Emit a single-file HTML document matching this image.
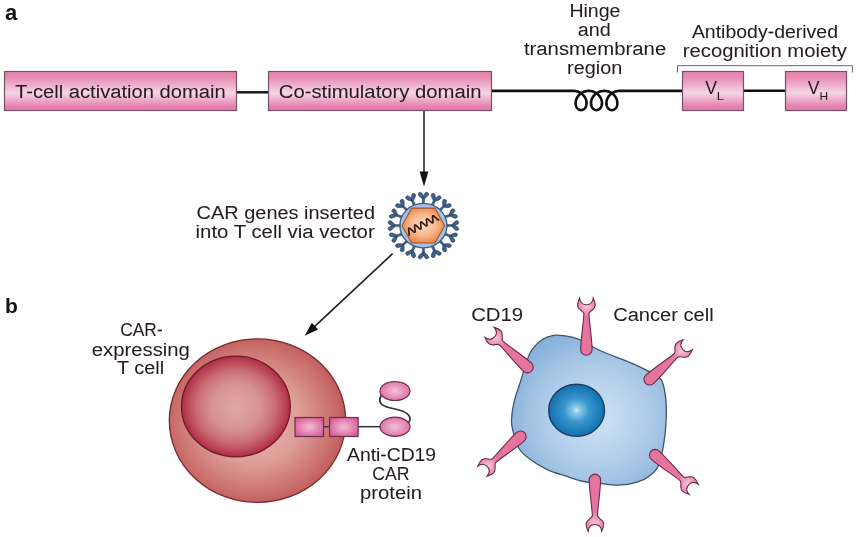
<!DOCTYPE html>
<html><head><meta charset="utf-8"><style>html,body{margin:0;padding:0;background:#fff;width:858px;height:537px;overflow:hidden}</style></head>
<body><svg width="858" height="537" viewBox="0 0 858 537" style="display:block;font-family:'Liberation Sans', sans-serif;will-change:transform">
<defs>
 <linearGradient id="boxg" x1="0" y1="0" x2="0" y2="1">
  <stop offset="0" stop-color="#e783b0"/>
  <stop offset="0.15" stop-color="#e68ab4"/>
  <stop offset="0.55" stop-color="#f5d6e4"/>
  <stop offset="0.9" stop-color="#e680b0"/>
  <stop offset="1" stop-color="#e47bab"/>
 </linearGradient>
 <radialGradient id="smallbox" cx="0.5" cy="0.5" r="0.6">
  <stop offset="0" stop-color="#f2bcd6"/>
  <stop offset="1" stop-color="#d95a97"/>
 </radialGradient>
 <radialGradient id="tcell" cx="0.48" cy="0.5" r="0.58">
  <stop offset="0" stop-color="#e6b2ac"/>
  <stop offset="0.45" stop-color="#de9e98"/>
  <stop offset="0.75" stop-color="#cc736f"/>
  <stop offset="1" stop-color="#b84b4f"/>
 </radialGradient>
 <radialGradient id="tnuc" cx="0.5" cy="0.5" r="0.52">
  <stop offset="0" stop-color="#e0a8a5"/>
  <stop offset="0.45" stop-color="#d69293"/>
  <stop offset="0.7" stop-color="#c96c74"/>
  <stop offset="0.9" stop-color="#b73c50"/>
  <stop offset="1" stop-color="#a8243b"/>
 </radialGradient>
 <radialGradient id="ccell" cx="0.55" cy="0.55" r="0.6">
  <stop offset="0" stop-color="#d0e3f4"/>
  <stop offset="0.55" stop-color="#afcce9"/>
  <stop offset="1" stop-color="#88b1da"/>
 </radialGradient>
 <radialGradient id="cnuc" cx="0.5" cy="0.5" r="0.5">
  <stop offset="0" stop-color="#d6eef9"/>
  <stop offset="0.12" stop-color="#8ccaea"/>
  <stop offset="0.45" stop-color="#3a96cf"/>
  <stop offset="0.85" stop-color="#1c7ab8"/>
  <stop offset="1" stop-color="#1670ad"/>
 </radialGradient>
 <radialGradient id="hexg" cx="0.5" cy="0.48" r="0.55">
  <stop offset="0" stop-color="#fddcc5"/>
  <stop offset="0.55" stop-color="#f7b78d"/>
  <stop offset="1" stop-color="#ed8243"/>
 </radialGradient>
 <radialGradient id="recg" gradientUnits="userSpaceOnUse" cx="0" cy="-49" r="11">
  <stop offset="0" stop-color="#f3c6d8"/>
  <stop offset="1" stop-color="#e5749f"/>
 </radialGradient>
 <radialGradient id="ellg" cx="0.5" cy="0.5" r="0.55">
  <stop offset="0" stop-color="#f0c2d8"/>
  <stop offset="1" stop-color="#df6ea3"/>
 </radialGradient>
</defs>

<text x="5" y="19.6" font-size="22" font-weight="bold" fill="#111">a</text>
<line x1="237" y1="92.3" x2="268" y2="92.3" stroke="#111" stroke-width="2.4"/>

<line x1="744" y1="90.7" x2="785" y2="90.7" stroke="#111" stroke-width="2.4"/>
<rect x="4.5" y="71.5" width="232" height="39" fill="url(#boxg)" stroke="#7a5066" stroke-width="1.2"/>
<rect x="268.5" y="71.5" width="223" height="39" fill="url(#boxg)" stroke="#7a5066" stroke-width="1.2"/>
<rect x="682.5" y="71.5" width="61" height="39" fill="url(#boxg)" stroke="#7a5066" stroke-width="1.2"/>
<rect x="785.5" y="71.5" width="61" height="39" fill="url(#boxg)" stroke="#7a5066" stroke-width="1.2"/>
<text x="15" y="97.8" font-size="18" font-weight="normal" fill="#251c22" stroke="#251c22" stroke-width="0.05" textLength="210.7" lengthAdjust="spacingAndGlyphs">T-cell activation domain</text>
<text x="278.8" y="98" font-size="18" font-weight="normal" fill="#251c22" stroke="#251c22" stroke-width="0.05" textLength="202.7" lengthAdjust="spacingAndGlyphs">Co-stimulatory domain</text>
<text x="705.2" y="93.7" font-size="18" font-weight="normal" fill="#251c22" stroke="#251c22" stroke-width="0.05" textLength="11.8" lengthAdjust="spacingAndGlyphs">V</text>
<text x="716.8" y="99.6" font-size="11" font-weight="normal" fill="#251c22" stroke="#251c22" stroke-width="0.05" textLength="7.2" lengthAdjust="spacingAndGlyphs">L</text>
<text x="807.8" y="93.7" font-size="18" font-weight="normal" fill="#251c22" stroke="#251c22" stroke-width="0.05" textLength="11.8" lengthAdjust="spacingAndGlyphs">V</text>
<text x="819.4" y="99.6" font-size="11" font-weight="normal" fill="#251c22" stroke="#251c22" stroke-width="0.05" textLength="8.6" lengthAdjust="spacingAndGlyphs">H</text>
<path d="M677.5,72.6 V65.7 H852.4 V72.6" fill="none" stroke="#666" stroke-width="1"/>
<path d="M492,90.9 L573.40,90.90 L574.12,90.92 L574.84,90.98 L575.55,91.07 L576.25,91.20 L576.95,91.37 L577.64,91.57 L578.31,91.81 L578.97,92.09 L579.61,92.39 L580.23,92.73 L580.83,93.10 L581.41,93.50 L581.96,93.93 L582.49,94.38 L582.99,94.86 L583.46,95.36 L583.90,95.88 L584.31,96.41 L584.69,96.97 L585.04,97.53 L585.35,98.11 L585.63,98.70 L585.87,99.30 L586.08,99.90 L586.25,100.50 L586.38,101.10 L586.49,101.70 L586.55,102.30 L586.58,102.89 L586.58,103.47 L586.54,104.03 L586.47,104.59 L586.37,105.12 L586.23,105.64 L586.07,106.14 L585.88,106.62 L585.66,107.07 L585.41,107.50 L585.14,107.90 L584.85,108.27 L584.53,108.61 L584.20,108.91 L583.85,109.19 L583.49,109.43 L583.11,109.63 L582.72,109.80 L582.32,109.93 L581.92,110.02 L581.51,110.08 L581.10,110.10 L580.69,110.08 L580.28,110.02 L579.87,109.93 L579.47,109.80 L579.09,109.63 L578.71,109.43 L578.34,109.19 L577.99,108.91 L577.66,108.61 L577.35,108.27 L577.05,107.90 L576.78,107.50 L576.54,107.07 L576.32,106.62 L576.12,106.14 L575.96,105.64 L575.83,105.12 L575.72,104.59 L575.65,104.03 L575.62,103.47 L575.61,102.89 L575.64,102.30 L575.71,101.70 L575.81,101.10 L575.95,100.50 L576.12,99.90 L576.32,99.30 L576.57,98.70 L576.84,98.11 L577.16,97.53 L577.50,96.97 L577.88,96.41 L578.29,95.88 L578.73,95.36 L579.20,94.86 L579.70,94.38 L580.23,93.93 L580.79,93.50 L581.36,93.10 L581.96,92.73 L582.59,92.39 L583.23,92.09 L583.88,91.81 L584.56,91.57 L585.24,91.37 L585.94,91.20 L586.65,91.07 L587.36,90.98 L588.07,90.92 L588.79,90.90 L589.51,90.92 L590.23,90.98 L590.94,91.07 L591.65,91.20 L592.34,91.37 L593.03,91.57 L593.70,91.81 L594.36,92.09 L595.00,92.39 L595.62,92.73 L596.22,93.10 L596.80,93.50 L597.36,93.93 L597.88,94.38 L598.38,94.86 L598.86,95.36 L599.30,95.88 L599.71,96.41 L600.09,96.97 L600.43,97.53 L600.74,98.11 L601.02,98.70 L601.26,99.30 L601.47,99.90 L601.64,100.50 L601.78,101.10 L601.88,101.70 L601.94,102.30 L601.98,102.89 L601.97,103.47 L601.93,104.03 L601.86,104.59 L601.76,105.12 L601.63,105.64 L601.46,106.14 L601.27,106.62 L601.05,107.07 L600.80,107.50 L600.53,107.90 L600.24,108.27 L599.93,108.61 L599.59,108.91 L599.25,109.19 L598.88,109.43 L598.50,109.63 L598.11,109.80 L597.72,109.93 L597.31,110.02 L596.90,110.08 L596.49,110.10 L596.08,110.08 L595.67,110.02 L595.27,109.93 L594.87,109.80 L594.48,109.63 L594.10,109.43 L593.74,109.19 L593.39,108.91 L593.05,108.61 L592.74,108.27 L592.45,107.90 L592.18,107.50 L591.93,107.07 L591.71,106.62 L591.52,106.14 L591.35,105.64 L591.22,105.12 L591.12,104.59 L591.05,104.03 L591.01,103.47 L591.01,102.89 L591.04,102.30 L591.10,101.70 L591.20,101.10 L591.34,100.50 L591.51,99.90 L591.72,99.30 L591.96,98.70 L592.24,98.11 L592.55,97.53 L592.89,96.97 L593.27,96.41 L593.68,95.88 L594.13,95.36 L594.60,94.86 L595.10,94.38 L595.63,93.93 L596.18,93.50 L596.76,93.10 L597.36,92.73 L597.98,92.39 L598.62,92.09 L599.28,91.81 L599.95,91.57 L600.64,91.37 L601.33,91.20 L602.04,91.07 L602.75,90.98 L603.47,90.92 L604.19,90.90 L604.91,90.92 L605.62,90.98 L606.34,91.07 L607.04,91.20 L607.74,91.37 L608.42,91.57 L609.10,91.81 L609.75,92.09 L610.40,92.39 L611.02,92.73 L611.62,93.10 L612.20,93.50 L612.75,93.93 L613.28,94.38 L613.78,94.86 L614.25,95.36 L614.69,95.88 L615.10,96.41 L615.48,96.97 L615.83,97.53 L616.14,98.11 L616.41,98.70 L616.66,99.30 L616.86,99.90 L617.04,100.50 L617.17,101.10 L617.27,101.70 L617.34,102.30 L617.37,102.89 L617.37,103.47 L617.33,104.03 L617.26,104.59 L617.15,105.12 L617.02,105.64 L616.86,106.14 L616.66,106.62 L616.44,107.07 L616.20,107.50 L615.93,107.90 L615.64,108.27 L615.32,108.61 L614.99,108.91 L614.64,109.19 L614.27,109.43 L613.90,109.63 L613.51,109.80 L613.11,109.93 L612.70,110.02 L612.30,110.08 L611.88,110.10 L611.47,110.08 L611.06,110.02 L610.66,109.93 L610.26,109.80 L609.87,109.63 L609.50,109.43 L609.13,109.19 L608.78,108.91 L608.45,108.61 L608.13,108.27 L607.84,107.90 L607.57,107.50 L607.32,107.07 L607.11,106.62 L606.91,106.14 L606.75,105.64 L606.61,105.12 L606.51,104.59 L606.44,104.03 L606.40,103.47 L606.40,102.89 L606.43,102.30 L606.50,101.70 L606.60,101.10 L606.73,100.50 L606.90,99.90 L607.11,99.30 L607.35,98.70 L607.63,98.11 L607.94,97.53 L608.29,96.97 L608.67,96.41 L609.08,95.88 L609.52,95.36 L609.99,94.86 L610.49,94.38 L611.02,93.93 L611.57,93.50 L612.15,93.10 L612.75,92.73 L613.37,92.39 L614.01,92.09 L614.67,91.81 L615.34,91.57 L616.03,91.37 L616.73,91.20 L617.43,91.07 L618.15,90.98 L618.86,90.92 L619.58,90.90 L682,90.9" fill="none" stroke="#111" stroke-width="2.6" stroke-linejoin="round"/>
<text x="569.4" y="17.1" font-size="18" font-weight="normal" fill="#251c22" stroke="#251c22" stroke-width="0.05" textLength="51.1" lengthAdjust="spacingAndGlyphs">Hinge</text>
<text x="577.8" y="35.9" font-size="18" font-weight="normal" fill="#251c22" stroke="#251c22" stroke-width="0.05" textLength="33.0" lengthAdjust="spacingAndGlyphs">and</text>
<text x="523.9" y="55.4" font-size="18" font-weight="normal" fill="#251c22" stroke="#251c22" stroke-width="0.05" textLength="142.3" lengthAdjust="spacingAndGlyphs">transmembrane</text>
<text x="567.1" y="74.2" font-size="18" font-weight="normal" fill="#251c22" stroke="#251c22" stroke-width="0.05" textLength="55.2" lengthAdjust="spacingAndGlyphs">region</text>
<text x="691.9" y="38.0" font-size="18" font-weight="normal" fill="#251c22" stroke="#251c22" stroke-width="0.05" textLength="146.1" lengthAdjust="spacingAndGlyphs">Antibody-derived</text>
<text x="682.8" y="56.6" font-size="18" font-weight="normal" fill="#251c22" stroke="#251c22" stroke-width="0.05" textLength="164.1" lengthAdjust="spacingAndGlyphs">recognition moiety</text>
<line x1="424.0" y1="111" x2="424.0" y2="174" stroke="#333" stroke-width="1.7"/>
<path d="M419.6,171.4 L428.4,171.4 L424.0,186.4 Z" fill="#111"/>
<g transform="translate(423.4,225.6) scale(1.06,1) translate(-423.4,-225.6)"><g transform="translate(423.4,225.6) rotate(0.0)"><path d="M-1.5,-21 L-1.0,-24 L-1.0,-27.6 L1.0,-27.6 L1.0,-24 L1.5,-21 Z" fill="#3d5f88" stroke="#2a4464" stroke-width="0.5"/><path transform="translate(0,-27.2) rotate(-36)" d="M-0.6,0 C-1.5,-1.8 -1.75,-3.6 -1.75,-5.3 A1.75,1.75 0 0 1 1.75,-5.3 C1.75,-3.6 1.5,-1.8 0.6,0 Z" fill="#41648e" stroke="#27405f" stroke-width="0.7"/><path transform="translate(0,-27.2) rotate(36)" d="M-0.6,0 C-1.5,-1.8 -1.75,-3.6 -1.75,-5.3 A1.75,1.75 0 0 1 1.75,-5.3 C1.75,-3.6 1.5,-1.8 0.6,0 Z" fill="#41648e" stroke="#27405f" stroke-width="0.7"/></g><g transform="translate(423.4,225.6) rotate(22.5)"><path d="M-1.5,-21 L-1.0,-24 L-1.0,-27.6 L1.0,-27.6 L1.0,-24 L1.5,-21 Z" fill="#3d5f88" stroke="#2a4464" stroke-width="0.5"/><path transform="translate(0,-27.2) rotate(-36)" d="M-0.6,0 C-1.5,-1.8 -1.75,-3.6 -1.75,-5.3 A1.75,1.75 0 0 1 1.75,-5.3 C1.75,-3.6 1.5,-1.8 0.6,0 Z" fill="#41648e" stroke="#27405f" stroke-width="0.7"/><path transform="translate(0,-27.2) rotate(36)" d="M-0.6,0 C-1.5,-1.8 -1.75,-3.6 -1.75,-5.3 A1.75,1.75 0 0 1 1.75,-5.3 C1.75,-3.6 1.5,-1.8 0.6,0 Z" fill="#41648e" stroke="#27405f" stroke-width="0.7"/></g><g transform="translate(423.4,225.6) rotate(45.0)"><path d="M-1.5,-21 L-1.0,-24 L-1.0,-27.6 L1.0,-27.6 L1.0,-24 L1.5,-21 Z" fill="#3d5f88" stroke="#2a4464" stroke-width="0.5"/><path transform="translate(0,-27.2) rotate(-36)" d="M-0.6,0 C-1.5,-1.8 -1.75,-3.6 -1.75,-5.3 A1.75,1.75 0 0 1 1.75,-5.3 C1.75,-3.6 1.5,-1.8 0.6,0 Z" fill="#41648e" stroke="#27405f" stroke-width="0.7"/><path transform="translate(0,-27.2) rotate(36)" d="M-0.6,0 C-1.5,-1.8 -1.75,-3.6 -1.75,-5.3 A1.75,1.75 0 0 1 1.75,-5.3 C1.75,-3.6 1.5,-1.8 0.6,0 Z" fill="#41648e" stroke="#27405f" stroke-width="0.7"/></g><g transform="translate(423.4,225.6) rotate(67.5)"><path d="M-1.5,-21 L-1.0,-24 L-1.0,-27.6 L1.0,-27.6 L1.0,-24 L1.5,-21 Z" fill="#3d5f88" stroke="#2a4464" stroke-width="0.5"/><path transform="translate(0,-27.2) rotate(-36)" d="M-0.6,0 C-1.5,-1.8 -1.75,-3.6 -1.75,-5.3 A1.75,1.75 0 0 1 1.75,-5.3 C1.75,-3.6 1.5,-1.8 0.6,0 Z" fill="#41648e" stroke="#27405f" stroke-width="0.7"/><path transform="translate(0,-27.2) rotate(36)" d="M-0.6,0 C-1.5,-1.8 -1.75,-3.6 -1.75,-5.3 A1.75,1.75 0 0 1 1.75,-5.3 C1.75,-3.6 1.5,-1.8 0.6,0 Z" fill="#41648e" stroke="#27405f" stroke-width="0.7"/></g><g transform="translate(423.4,225.6) rotate(90.0)"><path d="M-1.5,-21 L-1.0,-24 L-1.0,-27.6 L1.0,-27.6 L1.0,-24 L1.5,-21 Z" fill="#3d5f88" stroke="#2a4464" stroke-width="0.5"/><path transform="translate(0,-27.2) rotate(-36)" d="M-0.6,0 C-1.5,-1.8 -1.75,-3.6 -1.75,-5.3 A1.75,1.75 0 0 1 1.75,-5.3 C1.75,-3.6 1.5,-1.8 0.6,0 Z" fill="#41648e" stroke="#27405f" stroke-width="0.7"/><path transform="translate(0,-27.2) rotate(36)" d="M-0.6,0 C-1.5,-1.8 -1.75,-3.6 -1.75,-5.3 A1.75,1.75 0 0 1 1.75,-5.3 C1.75,-3.6 1.5,-1.8 0.6,0 Z" fill="#41648e" stroke="#27405f" stroke-width="0.7"/></g><g transform="translate(423.4,225.6) rotate(112.5)"><path d="M-1.5,-21 L-1.0,-24 L-1.0,-27.6 L1.0,-27.6 L1.0,-24 L1.5,-21 Z" fill="#3d5f88" stroke="#2a4464" stroke-width="0.5"/><path transform="translate(0,-27.2) rotate(-36)" d="M-0.6,0 C-1.5,-1.8 -1.75,-3.6 -1.75,-5.3 A1.75,1.75 0 0 1 1.75,-5.3 C1.75,-3.6 1.5,-1.8 0.6,0 Z" fill="#41648e" stroke="#27405f" stroke-width="0.7"/><path transform="translate(0,-27.2) rotate(36)" d="M-0.6,0 C-1.5,-1.8 -1.75,-3.6 -1.75,-5.3 A1.75,1.75 0 0 1 1.75,-5.3 C1.75,-3.6 1.5,-1.8 0.6,0 Z" fill="#41648e" stroke="#27405f" stroke-width="0.7"/></g><g transform="translate(423.4,225.6) rotate(135.0)"><path d="M-1.5,-21 L-1.0,-24 L-1.0,-27.6 L1.0,-27.6 L1.0,-24 L1.5,-21 Z" fill="#3d5f88" stroke="#2a4464" stroke-width="0.5"/><path transform="translate(0,-27.2) rotate(-36)" d="M-0.6,0 C-1.5,-1.8 -1.75,-3.6 -1.75,-5.3 A1.75,1.75 0 0 1 1.75,-5.3 C1.75,-3.6 1.5,-1.8 0.6,0 Z" fill="#41648e" stroke="#27405f" stroke-width="0.7"/><path transform="translate(0,-27.2) rotate(36)" d="M-0.6,0 C-1.5,-1.8 -1.75,-3.6 -1.75,-5.3 A1.75,1.75 0 0 1 1.75,-5.3 C1.75,-3.6 1.5,-1.8 0.6,0 Z" fill="#41648e" stroke="#27405f" stroke-width="0.7"/></g><g transform="translate(423.4,225.6) rotate(157.5)"><path d="M-1.5,-21 L-1.0,-24 L-1.0,-27.6 L1.0,-27.6 L1.0,-24 L1.5,-21 Z" fill="#3d5f88" stroke="#2a4464" stroke-width="0.5"/><path transform="translate(0,-27.2) rotate(-36)" d="M-0.6,0 C-1.5,-1.8 -1.75,-3.6 -1.75,-5.3 A1.75,1.75 0 0 1 1.75,-5.3 C1.75,-3.6 1.5,-1.8 0.6,0 Z" fill="#41648e" stroke="#27405f" stroke-width="0.7"/><path transform="translate(0,-27.2) rotate(36)" d="M-0.6,0 C-1.5,-1.8 -1.75,-3.6 -1.75,-5.3 A1.75,1.75 0 0 1 1.75,-5.3 C1.75,-3.6 1.5,-1.8 0.6,0 Z" fill="#41648e" stroke="#27405f" stroke-width="0.7"/></g><g transform="translate(423.4,225.6) rotate(180.0)"><path d="M-1.5,-21 L-1.0,-24 L-1.0,-27.6 L1.0,-27.6 L1.0,-24 L1.5,-21 Z" fill="#3d5f88" stroke="#2a4464" stroke-width="0.5"/><path transform="translate(0,-27.2) rotate(-36)" d="M-0.6,0 C-1.5,-1.8 -1.75,-3.6 -1.75,-5.3 A1.75,1.75 0 0 1 1.75,-5.3 C1.75,-3.6 1.5,-1.8 0.6,0 Z" fill="#41648e" stroke="#27405f" stroke-width="0.7"/><path transform="translate(0,-27.2) rotate(36)" d="M-0.6,0 C-1.5,-1.8 -1.75,-3.6 -1.75,-5.3 A1.75,1.75 0 0 1 1.75,-5.3 C1.75,-3.6 1.5,-1.8 0.6,0 Z" fill="#41648e" stroke="#27405f" stroke-width="0.7"/></g><g transform="translate(423.4,225.6) rotate(202.5)"><path d="M-1.5,-21 L-1.0,-24 L-1.0,-27.6 L1.0,-27.6 L1.0,-24 L1.5,-21 Z" fill="#3d5f88" stroke="#2a4464" stroke-width="0.5"/><path transform="translate(0,-27.2) rotate(-36)" d="M-0.6,0 C-1.5,-1.8 -1.75,-3.6 -1.75,-5.3 A1.75,1.75 0 0 1 1.75,-5.3 C1.75,-3.6 1.5,-1.8 0.6,0 Z" fill="#41648e" stroke="#27405f" stroke-width="0.7"/><path transform="translate(0,-27.2) rotate(36)" d="M-0.6,0 C-1.5,-1.8 -1.75,-3.6 -1.75,-5.3 A1.75,1.75 0 0 1 1.75,-5.3 C1.75,-3.6 1.5,-1.8 0.6,0 Z" fill="#41648e" stroke="#27405f" stroke-width="0.7"/></g><g transform="translate(423.4,225.6) rotate(225.0)"><path d="M-1.5,-21 L-1.0,-24 L-1.0,-27.6 L1.0,-27.6 L1.0,-24 L1.5,-21 Z" fill="#3d5f88" stroke="#2a4464" stroke-width="0.5"/><path transform="translate(0,-27.2) rotate(-36)" d="M-0.6,0 C-1.5,-1.8 -1.75,-3.6 -1.75,-5.3 A1.75,1.75 0 0 1 1.75,-5.3 C1.75,-3.6 1.5,-1.8 0.6,0 Z" fill="#41648e" stroke="#27405f" stroke-width="0.7"/><path transform="translate(0,-27.2) rotate(36)" d="M-0.6,0 C-1.5,-1.8 -1.75,-3.6 -1.75,-5.3 A1.75,1.75 0 0 1 1.75,-5.3 C1.75,-3.6 1.5,-1.8 0.6,0 Z" fill="#41648e" stroke="#27405f" stroke-width="0.7"/></g><g transform="translate(423.4,225.6) rotate(247.5)"><path d="M-1.5,-21 L-1.0,-24 L-1.0,-27.6 L1.0,-27.6 L1.0,-24 L1.5,-21 Z" fill="#3d5f88" stroke="#2a4464" stroke-width="0.5"/><path transform="translate(0,-27.2) rotate(-36)" d="M-0.6,0 C-1.5,-1.8 -1.75,-3.6 -1.75,-5.3 A1.75,1.75 0 0 1 1.75,-5.3 C1.75,-3.6 1.5,-1.8 0.6,0 Z" fill="#41648e" stroke="#27405f" stroke-width="0.7"/><path transform="translate(0,-27.2) rotate(36)" d="M-0.6,0 C-1.5,-1.8 -1.75,-3.6 -1.75,-5.3 A1.75,1.75 0 0 1 1.75,-5.3 C1.75,-3.6 1.5,-1.8 0.6,0 Z" fill="#41648e" stroke="#27405f" stroke-width="0.7"/></g><g transform="translate(423.4,225.6) rotate(270.0)"><path d="M-1.5,-21 L-1.0,-24 L-1.0,-27.6 L1.0,-27.6 L1.0,-24 L1.5,-21 Z" fill="#3d5f88" stroke="#2a4464" stroke-width="0.5"/><path transform="translate(0,-27.2) rotate(-36)" d="M-0.6,0 C-1.5,-1.8 -1.75,-3.6 -1.75,-5.3 A1.75,1.75 0 0 1 1.75,-5.3 C1.75,-3.6 1.5,-1.8 0.6,0 Z" fill="#41648e" stroke="#27405f" stroke-width="0.7"/><path transform="translate(0,-27.2) rotate(36)" d="M-0.6,0 C-1.5,-1.8 -1.75,-3.6 -1.75,-5.3 A1.75,1.75 0 0 1 1.75,-5.3 C1.75,-3.6 1.5,-1.8 0.6,0 Z" fill="#41648e" stroke="#27405f" stroke-width="0.7"/></g><g transform="translate(423.4,225.6) rotate(292.5)"><path d="M-1.5,-21 L-1.0,-24 L-1.0,-27.6 L1.0,-27.6 L1.0,-24 L1.5,-21 Z" fill="#3d5f88" stroke="#2a4464" stroke-width="0.5"/><path transform="translate(0,-27.2) rotate(-36)" d="M-0.6,0 C-1.5,-1.8 -1.75,-3.6 -1.75,-5.3 A1.75,1.75 0 0 1 1.75,-5.3 C1.75,-3.6 1.5,-1.8 0.6,0 Z" fill="#41648e" stroke="#27405f" stroke-width="0.7"/><path transform="translate(0,-27.2) rotate(36)" d="M-0.6,0 C-1.5,-1.8 -1.75,-3.6 -1.75,-5.3 A1.75,1.75 0 0 1 1.75,-5.3 C1.75,-3.6 1.5,-1.8 0.6,0 Z" fill="#41648e" stroke="#27405f" stroke-width="0.7"/></g><g transform="translate(423.4,225.6) rotate(315.0)"><path d="M-1.5,-21 L-1.0,-24 L-1.0,-27.6 L1.0,-27.6 L1.0,-24 L1.5,-21 Z" fill="#3d5f88" stroke="#2a4464" stroke-width="0.5"/><path transform="translate(0,-27.2) rotate(-36)" d="M-0.6,0 C-1.5,-1.8 -1.75,-3.6 -1.75,-5.3 A1.75,1.75 0 0 1 1.75,-5.3 C1.75,-3.6 1.5,-1.8 0.6,0 Z" fill="#41648e" stroke="#27405f" stroke-width="0.7"/><path transform="translate(0,-27.2) rotate(36)" d="M-0.6,0 C-1.5,-1.8 -1.75,-3.6 -1.75,-5.3 A1.75,1.75 0 0 1 1.75,-5.3 C1.75,-3.6 1.5,-1.8 0.6,0 Z" fill="#41648e" stroke="#27405f" stroke-width="0.7"/></g><g transform="translate(423.4,225.6) rotate(337.5)"><path d="M-1.5,-21 L-1.0,-24 L-1.0,-27.6 L1.0,-27.6 L1.0,-24 L1.5,-21 Z" fill="#3d5f88" stroke="#2a4464" stroke-width="0.5"/><path transform="translate(0,-27.2) rotate(-36)" d="M-0.6,0 C-1.5,-1.8 -1.75,-3.6 -1.75,-5.3 A1.75,1.75 0 0 1 1.75,-5.3 C1.75,-3.6 1.5,-1.8 0.6,0 Z" fill="#41648e" stroke="#27405f" stroke-width="0.7"/><path transform="translate(0,-27.2) rotate(36)" d="M-0.6,0 C-1.5,-1.8 -1.75,-3.6 -1.75,-5.3 A1.75,1.75 0 0 1 1.75,-5.3 C1.75,-3.6 1.5,-1.8 0.6,0 Z" fill="#41648e" stroke="#27405f" stroke-width="0.7"/></g><circle cx="423.4" cy="225.6" r="22.2" fill="#a9c0e0" stroke="#3a5f88" stroke-width="1.3"/></g>
<polygon points="402,225.8 411.7,208.1 435,208.1 444.6,225.8 435,243 411.7,243" fill="url(#hexg)" stroke="#9c5530" stroke-width="1.1"/>
<path d="M408.83,235.25 L408.99,235.10 L409.09,234.85 L409.15,234.50 L409.16,234.06 L409.13,233.54 L409.06,232.97 L408.98,232.36 L408.89,231.72 L408.80,231.09 L408.72,230.48 L408.65,229.91 L408.62,229.39 L408.63,228.95 L408.69,228.60 L408.79,228.35 L408.95,228.20 L409.16,228.16 L409.43,228.22 L409.75,228.37 L410.11,228.62 L410.52,228.94 L410.95,229.32 L411.40,229.74 L411.87,230.18 L412.34,230.61 L412.79,231.03 L413.22,231.41 L413.63,231.73 L413.99,231.98 L414.31,232.13 L414.58,232.19 L414.79,232.15 L414.95,232.00 L415.05,231.75 L415.11,231.40 L415.12,230.96 L415.09,230.44 L415.02,229.87 L414.94,229.26 L414.85,228.62 L414.76,227.99 L414.68,227.38 L414.61,226.81 L414.58,226.29 L414.59,225.85 L414.65,225.50 L414.75,225.25 L414.91,225.10 L415.12,225.06 L415.39,225.12 L415.71,225.27 L416.07,225.52 L416.48,225.84 L416.91,226.22 L417.36,226.64 L417.83,227.07 L418.30,227.51 L418.75,227.93 L419.18,228.31 L419.59,228.63 L419.95,228.88 L420.27,229.03 L420.54,229.09 L420.75,229.05 L420.91,228.90 L421.01,228.65 L421.07,228.30 L421.08,227.86 L421.05,227.34 L420.98,226.77 L420.90,226.16 L420.81,225.53 L420.72,224.89 L420.64,224.28 L420.57,223.71 L420.54,223.19 L420.55,222.75 L420.61,222.40 L420.71,222.15 L420.87,222.00 L421.08,221.96 L421.35,222.02 L421.67,222.17 L422.03,222.42 L422.44,222.74 L422.87,223.12 L423.32,223.54 L423.79,223.97 L424.26,224.41 L424.71,224.83 L425.14,225.21 L425.55,225.53 L425.91,225.78 L426.23,225.93 L426.50,225.99 L426.71,225.95 L426.87,225.80 L426.97,225.55 L427.03,225.20 L427.04,224.76 L427.01,224.24 L426.94,223.67 L426.86,223.06 L426.77,222.43 L426.68,221.79 L426.60,221.18 L426.53,220.61 L426.50,220.09 L426.51,219.65 L426.57,219.30 L426.67,219.05 L426.83,218.90 L427.04,218.86 L427.31,218.92 L427.63,219.07 L427.99,219.32 L428.40,219.64 L428.83,220.02 L429.28,220.44 L429.75,220.88 L430.22,221.31 L430.67,221.73 L431.10,222.11 L431.51,222.43 L431.87,222.68 L432.19,222.83 L432.46,222.89 L432.67,222.85 L432.83,222.70 L432.93,222.45 L432.99,222.10 L433.00,221.66 L432.97,221.14 L432.90,220.57 L432.82,219.96 L432.73,219.32 L432.64,218.69 L432.56,218.08 L432.49,217.51 L432.46,216.99 L432.47,216.55 L432.53,216.20 L432.63,215.95 L432.79,215.80 L433.00,215.76 L433.27,215.82 L433.59,215.97 L433.95,216.22 L434.36,216.54 L434.79,216.92 L435.24,217.34 L435.71,217.78 L436.18,218.21 L436.63,218.63 L437.06,219.01 L437.47,219.33 L437.83,219.58 L438.15,219.73 L438.42,219.79 L438.63,219.75" fill="none" stroke="#2a1a10" stroke-width="1.65" stroke-linecap="round"/>
<text x="196.6" y="218.9" font-size="18" font-weight="normal" fill="#251c22" stroke="#251c22" stroke-width="0.05" textLength="178.4" lengthAdjust="spacingAndGlyphs">CAR genes inserted</text>
<text x="195.6" y="237.6" font-size="18" font-weight="normal" fill="#251c22" stroke="#251c22" stroke-width="0.05" textLength="179.1" lengthAdjust="spacingAndGlyphs">into T cell via vector</text>
<line x1="392.6" y1="253.7" x2="311" y2="329.8" stroke="#222" stroke-width="1.7"/>
<path d="M304.7,335.7 L311.8,322.8 L318.1,329.5 Z" fill="#111"/>
<text x="5" y="312.7" font-size="21" font-weight="bold" fill="#111">b</text>
<text x="120.2" y="336.4" font-size="18" font-weight="normal" fill="#251c22" stroke="#251c22" stroke-width="0.05" textLength="42.5" lengthAdjust="spacingAndGlyphs">CAR-</text>
<text x="91.8" y="355.5" font-size="18" font-weight="normal" fill="#251c22" stroke="#251c22" stroke-width="0.05" textLength="98.1" lengthAdjust="spacingAndGlyphs">expressing</text>
<text x="117.0" y="373.8" font-size="18" font-weight="normal" fill="#251c22" stroke="#251c22" stroke-width="0.05" textLength="47.1" lengthAdjust="spacingAndGlyphs">T cell</text>
<ellipse cx="257.5" cy="420.6" rx="88.2" ry="81.8" fill="url(#tcell)" stroke="#7a2a30" stroke-width="1.3"/>
<ellipse cx="235.9" cy="406.5" rx="54.4" ry="50.3" fill="url(#tnuc)" stroke="#6e1a28" stroke-width="1.3"/>
<line x1="323" y1="426.7" x2="330" y2="426.7" stroke="#333" stroke-width="1.3"/>
<line x1="358" y1="426.7" x2="381" y2="426.7" stroke="#333" stroke-width="1.5"/>
<rect x="295" y="417.5" width="28.5" height="19" fill="url(#smallbox)" stroke="#6b3050" stroke-width="1.2"/>
<rect x="329.6" y="417.5" width="28.5" height="19" fill="url(#smallbox)" stroke="#6b3050" stroke-width="1.2"/>
<path d="M381.5,395 C376,404 384,407 395,409 C410,412 412,418 408.5,423" fill="none" stroke="#333" stroke-width="1.7"/>
<ellipse cx="395" cy="391" rx="15" ry="9.5" fill="url(#ellg)" stroke="#6b3050" stroke-width="1.2"/>
<ellipse cx="395" cy="426.8" rx="15" ry="9.6" fill="url(#ellg)" stroke="#6b3050" stroke-width="1.2"/>
<text x="347.0" y="460.7" font-size="18" font-weight="normal" fill="#251c22" stroke="#251c22" stroke-width="0.05" textLength="89.1" lengthAdjust="spacingAndGlyphs">Anti-CD19</text>
<text x="372.2" y="480" font-size="18" font-weight="normal" fill="#251c22" stroke="#251c22" stroke-width="0.05" textLength="37.3" lengthAdjust="spacingAndGlyphs">CAR</text>
<text x="360" y="498.7" font-size="18" font-weight="normal" fill="#251c22" stroke="#251c22" stroke-width="0.05" textLength="61.9" lengthAdjust="spacingAndGlyphs">protein</text>
<path d="M541.0,340.5 C545.0,337.5 549.0,335.9 554.0,335.3 C559.0,334.7 566.1,335.9 570.8,336.8 C575.5,337.7 577.1,338.2 582.0,340.5 C586.9,342.8 592.5,347.0 600.0,350.5 C607.5,354.0 619.6,358.2 627.2,361.4 C634.9,364.6 640.3,366.9 645.9,369.8 C651.5,372.8 657.5,374.8 660.8,379.1 C664.0,383.5 664.5,390.0 665.4,395.9 C666.3,401.8 666.4,407.4 666.3,414.5 C666.1,421.6 665.7,430.2 664.5,438.6 C663.3,447.0 661.4,458.5 658.9,464.7 C656.4,470.9 653.3,472.9 649.6,475.9 C645.9,478.8 641.9,480.8 636.6,482.4 C631.3,483.9 624.0,485.0 617.9,485.2 C611.8,485.4 605.7,483.9 600.0,483.3 C594.3,482.7 589.6,482.7 583.8,481.5 C578.0,480.3 571.4,477.9 565.2,475.9 C559.0,473.9 552.5,472.1 546.6,469.3 C540.7,466.5 534.5,462.7 529.8,459.1 C525.1,455.6 521.4,452.6 518.6,448.0 C515.8,443.4 514.2,435.9 513.0,431.2 C511.8,426.5 511.3,424.9 511.5,420.0 C511.7,415.1 512.5,408.4 514.0,402.0 C515.5,395.6 517.9,389.6 520.5,381.5 C523.1,373.4 526.4,360.3 529.8,353.5 C533.2,346.7 537.0,343.5 541.0,340.5 Z" fill="url(#ccell)" stroke="#3f5670" stroke-width="1.3"/>
<ellipse cx="576.6" cy="410.3" rx="27.9" ry="26.1" fill="url(#cnuc)" stroke="#16405e" stroke-width="1.4"/>
<g transform="translate(586.4,355.2) rotate(0)"><path d="M-2.5,-41.5 C-3.0,-44.5 -8.8,-45.5 -8.8,-50 C-8.8,-53 -7.6,-55.5 -6.8,-57.2 C-6.4,-53.2 -3.8,-50.4 0,-50.4 C3.8,-50.4 6.4,-53.2 6.8,-57.2 C7.6,-55.5 8.8,-53 8.8,-50 C8.8,-45.5 3.0,-44.5 2.5,-41.5 C3.0,-32 5.7,-15 5.7,-5.7 A5.7,5.7 0 0 1 -5.7,-5.7 C-5.7,-15 -3.0,-32 -2.5,-41.5 Z" fill="url(#recg)" stroke="#6a2a48" stroke-width="1.1"/></g>
<g transform="translate(531.7,371) rotate(-47.5)"><path d="M-2.5,-41.5 C-3.0,-44.5 -8.8,-45.5 -8.8,-50 C-8.8,-53 -7.6,-55.5 -6.8,-57.2 C-6.4,-53.2 -3.8,-50.4 0,-50.4 C3.8,-50.4 6.4,-53.2 6.8,-57.2 C7.6,-55.5 8.8,-53 8.8,-50 C8.8,-45.5 3.0,-44.5 2.5,-41.5 C3.0,-32 5.7,-15 5.7,-5.7 A5.7,5.7 0 0 1 -5.7,-5.7 C-5.7,-15 -3.0,-32 -2.5,-41.5 Z" fill="url(#recg)" stroke="#6a2a48" stroke-width="1.1"/></g>
<g transform="translate(645.4,383.2) rotate(47.8)"><path d="M-2.5,-41.5 C-3.0,-44.5 -8.8,-45.5 -8.8,-50 C-8.8,-53 -7.6,-55.5 -6.8,-57.2 C-6.4,-53.2 -3.8,-50.4 0,-50.4 C3.8,-50.4 6.4,-53.2 6.8,-57.2 C7.6,-55.5 8.8,-53 8.8,-50 C8.8,-45.5 3.0,-44.5 2.5,-41.5 C3.0,-32 5.7,-15 5.7,-5.7 A5.7,5.7 0 0 1 -5.7,-5.7 C-5.7,-15 -3.0,-32 -2.5,-41.5 Z" fill="url(#recg)" stroke="#6a2a48" stroke-width="1.1"/></g>
<g transform="translate(524.7,432.8) rotate(-132.2)"><path d="M-2.5,-41.5 C-3.0,-44.5 -8.8,-45.5 -8.8,-50 C-8.8,-53 -7.6,-55.5 -6.8,-57.2 C-6.4,-53.2 -3.8,-50.4 0,-50.4 C3.8,-50.4 6.4,-53.2 6.8,-57.2 C7.6,-55.5 8.8,-53 8.8,-50 C8.8,-45.5 3.0,-44.5 2.5,-41.5 C3.0,-32 5.7,-15 5.7,-5.7 A5.7,5.7 0 0 1 -5.7,-5.7 C-5.7,-15 -3.0,-32 -2.5,-41.5 Z" fill="url(#recg)" stroke="#6a2a48" stroke-width="1.1"/></g>
<g transform="translate(594.9,474.1) rotate(180)"><path d="M-2.5,-41.5 C-3.0,-44.5 -8.8,-45.5 -8.8,-50 C-8.8,-53 -7.6,-55.5 -6.8,-57.2 C-6.4,-53.2 -3.8,-50.4 0,-50.4 C3.8,-50.4 6.4,-53.2 6.8,-57.2 C7.6,-55.5 8.8,-53 8.8,-50 C8.8,-45.5 3.0,-44.5 2.5,-41.5 C3.0,-32 5.7,-15 5.7,-5.7 A5.7,5.7 0 0 1 -5.7,-5.7 C-5.7,-15 -3.0,-32 -2.5,-41.5 Z" fill="url(#recg)" stroke="#6a2a48" stroke-width="1.1"/></g>
<g transform="translate(650.9,451.3) rotate(131.6)"><path d="M-2.5,-41.5 C-3.0,-44.5 -8.8,-45.5 -8.8,-50 C-8.8,-53 -7.6,-55.5 -6.8,-57.2 C-6.4,-53.2 -3.8,-50.4 0,-50.4 C3.8,-50.4 6.4,-53.2 6.8,-57.2 C7.6,-55.5 8.8,-53 8.8,-50 C8.8,-45.5 3.0,-44.5 2.5,-41.5 C3.0,-32 5.7,-15 5.7,-5.7 A5.7,5.7 0 0 1 -5.7,-5.7 C-5.7,-15 -3.0,-32 -2.5,-41.5 Z" fill="url(#recg)" stroke="#6a2a48" stroke-width="1.1"/></g>
<text x="471.2" y="321.3" font-size="18" font-weight="normal" fill="#251c22" stroke="#251c22" stroke-width="0.05" textLength="52.0" lengthAdjust="spacingAndGlyphs">CD19</text>
<text x="613.2" y="320.9" font-size="18" font-weight="normal" fill="#251c22" stroke="#251c22" stroke-width="0.05" textLength="100.5" lengthAdjust="spacingAndGlyphs">Cancer cell</text></svg></body></html>
